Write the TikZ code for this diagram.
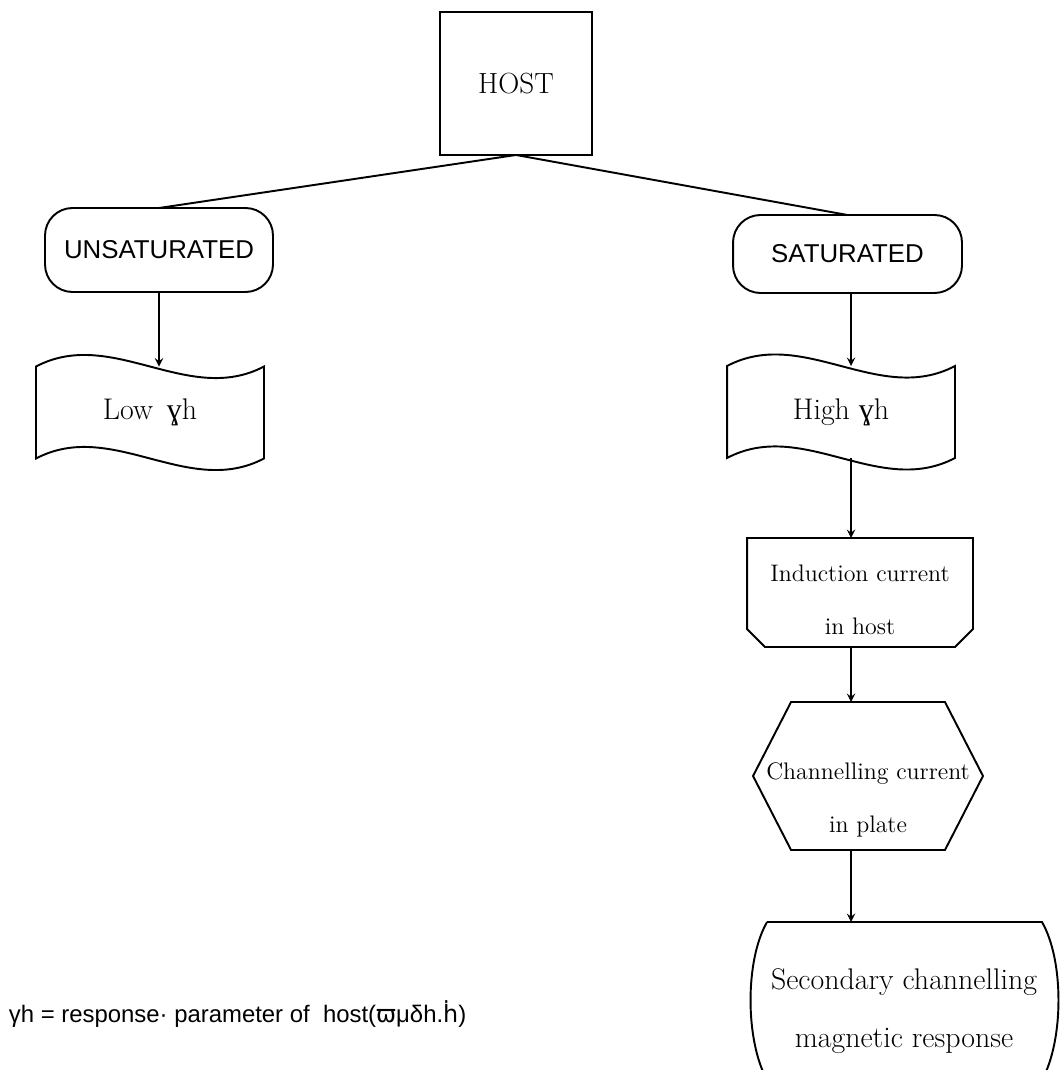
\documentclass[tikz,border=0pt]{standalone}
\usepackage{fontspec}
\newfontfamily\arialfont{Liberation Sans}
\newfontfamily\symsans{DejaVu Sans}
\newfontfamily\symserif{Liberation Serif}
\usetikzlibrary{calc}

\tikzset{
    flowbox/.style={inner sep=0pt, outer sep=0pt, align=center},
    termbox/.style={flowbox, draw, rounded corners=0.55cm, font=\arialfont\fontsize{14.7}{18}\selectfont},
    tapebox/.style={flowbox, minimum width=4.56cm, minimum height=1.84cm, font=\fontsize{17}{20}\selectfont},
}

\begin{document}
\begin{tikzpicture}[x=0.02cm, y=-0.02cm, line width=1.1pt]
        \useasboundingbox (0,0) rectangle (1061,1070);
        \coordinate (spine) at (851,0);

        \node[flowbox, draw, minimum width=3.04cm, minimum height=2.86cm, font=\fontsize{16.6}{20}\selectfont] (host) at (516,83.5) {HOST};

        \node[termbox, minimum width=4.56cm, minimum height=1.68cm] (unsat) at (159,250) {UNSATURATED};
        \node[termbox, minimum width=4.58cm, minimum height=1.56cm] (sat) at (847.5,254) {SATURATED};

        \node[tapebox] (low) at (150,412.5) {Low\ \,{\symserif ɣ}h};
        \node[tapebox] (high) at (841,412) {High\ {\symserif ɣ}h};

        \node[flowbox, minimum width=4.52cm, minimum height=2.18cm, font=\fontsize{13.6}{30.6}\selectfont] (ind) at (860,592.5) {\rule{0pt}{17.9pt}Induction current\\in host};
        \node[flowbox, minimum width=4.6cm, minimum height=2.96cm, font=\fontsize{13.6}{30.6}\selectfont] (chan) at (868,776) {\rule{0pt}{36.7pt}Channelling current\\in plate};
        \node[flowbox, minimum width=6.16cm, minimum height=3.16cm, font=\fontsize{17}{32.9}\selectfont] (sec) at (904,1001) {\rule{0pt}{23.1pt}Secondary channelling\\magnetic response};

        \node[anchor=base west, inner sep=0pt, font=\arialfont\fontsize{13.6}{16}\selectfont] (note) at (8,1022) {γh = response· parameter of\ \ host({\symsans ϖ}μδh.{\symsans ḣ})};

        % outlines
        \draw (low.north west) .. controls +(76,-40) and +(-76,40) .. (low.north east) -- (low.south east) .. controls +(-76,40) and +(76,-40) .. (low.south west) -- cycle;
        \draw (high.north west) .. controls +(76,-40) and +(-76,40) .. (high.north east) -- (high.south east) .. controls +(-76,40) and +(76,-40) .. (high.south west) -- cycle;
        \draw (ind.north west) -- (ind.north east) -- ($(ind.south east)+(0,-18)$) -- ($(ind.south east)+(-18,0)$) -- ($(ind.south west)+(18,0)$) -- ($(ind.south west)+(0,-18)$) -- cycle;
        \draw (chan.west) -- ($(chan.north west)+(38,0)$) -- ($(chan.north east)+(-38,0)$) -- (chan.east) -- ($(chan.south east)+(-38,0)$) -- ($(chan.south west)+(38,0)$) -- cycle;
        \draw ($(sec.north west)+(17,0)$) -- ($(sec.north east)+(-16,0)$) .. controls +(22,38) and +(22,-40) .. ($(sec.south east)+(-16,0)$) -- ($(sec.south west)+(17,0)$) .. controls +(-22,-40) and +(-22,38) .. ($(sec.north west)+(17,0)$);

        % connectors
        \draw (host.south) -- (unsat.north);
        \draw (host.south) -- (sat.north);
        \draw[-stealth] (unsat.south) -- (unsat.south |- low.north);
        \draw[-stealth] (sat.south -| spine) -- (high.north -| spine);
        \draw[-stealth] (high.south -| spine) -- (ind.north -| spine);
        \draw[-stealth] (ind.south -| spine) -- (chan.north -| spine);
        \draw[-stealth] (chan.south -| spine) -- (sec.north -| spine);
\end{tikzpicture}
\end{document}
